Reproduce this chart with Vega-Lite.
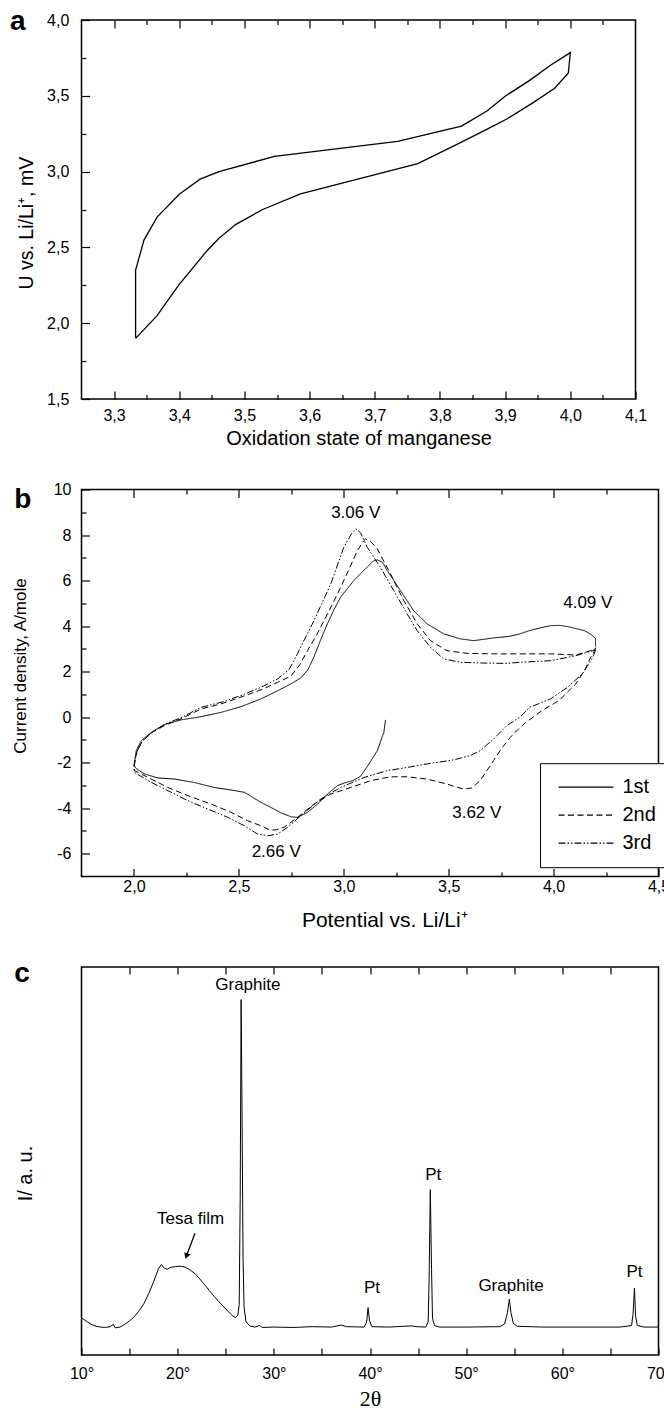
{
  "$schema": "https://vega.github.io/schema/vega-lite/v6.json",
  "background": "white",
  "padding": {"left": 8.5, "top": 6, "right": 2, "bottom": 0},
  "bounds": "flush",
  "spacing": 90.5,
  "resolve": {"legend": {"strokeDash": "independent"}},
  "config": {
    "font": "Liberation Sans",
    "view": {"stroke": "black", "strokeWidth": 1.5},
    "axis": {"domain": false, "grid": false, "tickColor": "black", "tickWidth": 1.2, "labelColor": "black", "titleColor": "black", "labelFontSize": 16, "labelFont": "Liberation Sans", "titleFont": "Liberation Sans", "titleFontWeight": "normal", "labelFlush": false, "labelOverlap": false}
  },
  "vconcat": [
    {
      "width": 554, "height": 379,
      "data": {"values": [
        {"i":0,"ox":3.333,"u":1.9},{"i":1,"ox":3.333,"u":2.35},{"i":2,"ox":3.346,"u":2.55},{"i":3,"ox":3.366,"u":2.7},{"i":4,"ox":3.4,"u":2.85},{"i":5,"ox":3.432,"u":2.95},{"i":6,"ox":3.461,"u":3.0},{"i":7,"ox":3.546,"u":3.1},{"i":8,"ox":3.735,"u":3.2},{"i":9,"ox":3.833,"u":3.3},{"i":10,"ox":3.872,"u":3.4},{"i":11,"ox":3.901,"u":3.5},{"i":12,"ox":3.937,"u":3.6},{"i":13,"ox":3.969,"u":3.7},{"i":14,"ox":4.0,"u":3.785},{"i":15,"ox":3.997,"u":3.65},{"i":16,"ox":3.976,"u":3.55},{"i":17,"ox":3.943,"u":3.455},{"i":18,"ox":3.904,"u":3.35},{"i":19,"ox":3.868,"u":3.27},{"i":20,"ox":3.826,"u":3.18},{"i":21,"ox":3.766,"u":3.053},{"i":22,"ox":3.586,"u":2.853},{"i":23,"ox":3.528,"u":2.75},{"i":24,"ox":3.487,"u":2.652},{"i":25,"ox":3.461,"u":2.56},{"i":26,"ox":3.443,"u":2.48},{"i":27,"ox":3.4,"u":2.256},{"i":28,"ox":3.38,"u":2.135},{"i":29,"ox":3.366,"u":2.05},{"i":30,"ox":3.333,"u":1.9}
      ]},
      "resolve": {"axis": {"x": "independent", "y": "independent"}},
      "layer": [
        {
          "mark": {"type": "line", "color": "black", "strokeWidth": 1.3},
          "encoding": {
            "x": {"field": "ox", "type": "quantitative", "scale": {"domain": [3.25, 4.1], "nice": false, "zero": false},
                  "axis": {"orient": "bottom", "values": [3.3,3.4,3.5,3.6,3.7,3.8,3.9,4.0,4.1], "tickSize": -8, "labelPadding": 16.5, "labelExpr": "replace(format(datum.value, '.1f'), '.', ',')", "title": "Oxidation state of manganese", "titleFontSize": 20, "titleY": 45, "titleBaseline": "alphabetic"}},
            "y": {"field": "u", "type": "quantitative", "scale": {"domain": [1.5, 4.0], "nice": false, "zero": false},
                  "axis": {"orient": "left", "values": [1.5,2.0,2.5,3.0,3.5,4.0], "tickSize": -8, "labelPadding": 20.7, "labelExpr": "replace(format(datum.value, '.1f'), '.', ',')", "title": "U vs. Li/Li⁺, mV", "titleFontSize": 19.5, "titleX": -49.5, "titleY": 202.7, "titleBaseline": "alphabetic"}},
            "order": {"field": "i", "type": "quantitative"}
          }
        },
        {
          "mark": {"type": "point", "opacity": 0},
          "encoding": {
            "x": {"field": "ox", "type": "quantitative", "scale": {"domain": [3.25, 4.1], "nice": false, "zero": false},
                  "axis": {"orient": "bottom", "values": [3.35,3.45,3.55,3.65,3.75,3.85,3.95,4.05], "tickSize": -4.5, "labels": false, "title": null}},
            "y": {"field": "u", "type": "quantitative", "scale": {"domain": [1.5, 4.0], "nice": false, "zero": false},
                  "axis": {"orient": "left", "values": [1.75,2.25,2.75,3.25,3.75], "tickSize": -4.5, "labels": false, "title": null}}
          }
        },
        {
          "mark": {"type": "point", "opacity": 0},
          "encoding": {
            "x": {"field": "ox", "type": "quantitative", "scale": {"domain": [3.25, 4.1], "nice": false, "zero": false},
                  "axis": {"orient": "top", "values": [3.3,3.4,3.5,3.6,3.7,3.8,3.9,4.0], "tickSize": -8, "labels": false, "title": "a", "titleX": -72, "titleY": 9, "titleAlign": "left", "titleAngle": 0, "titleBaseline": "alphabetic", "titleFontSize": 28, "titleFontWeight": "bold"}},
            "y": {"field": "u", "type": "quantitative", "scale": {"domain": [1.5, 4.0], "nice": false, "zero": false}, "axis": null}
          }
        },
        {
          "mark": {"type": "point", "opacity": 0},
          "encoding": {
            "x": {"field": "ox", "type": "quantitative", "scale": {"domain": [3.25, 4.1], "nice": false, "zero": false},
                  "axis": {"orient": "top", "values": [3.35,3.45,3.55,3.65,3.75,3.85,3.95,4.05], "tickSize": -4.5, "labels": false, "title": null}},
            "y": {"field": "u", "type": "quantitative", "scale": {"domain": [1.5, 4.0], "nice": false, "zero": false}, "axis": null}
          }
        }
      ]
    },
    {
      "width": 577, "height": 387,
      "data": {"values": [
        {"cycle":"1st","n":0,"E":3.199,"I":-0.12},{"cycle":"1st","n":1,"E":3.191,"I":-0.67},{"cycle":"1st","n":2,"E":3.16,"I":-1.47},{"cycle":"1st","n":3,"E":3.12,"I":-2.06},{"cycle":"1st","n":4,"E":3.08,"I":-2.6},{"cycle":"1st","n":5,"E":3.045,"I":-2.78},{"cycle":"1st","n":6,"E":3.0,"I":-2.9},{"cycle":"1st","n":7,"E":2.97,"I":-3.01},{"cycle":"1st","n":8,"E":2.945,"I":-3.2},{"cycle":"1st","n":9,"E":2.922,"I":-3.38},{"cycle":"1st","n":10,"E":2.875,"I":-3.82},{"cycle":"1st","n":11,"E":2.827,"I":-4.18},{"cycle":"1st","n":12,"E":2.78,"I":-4.4},{"cycle":"1st","n":13,"E":2.75,"I":-4.38},{"cycle":"1st","n":14,"E":2.7,"I":-4.2},{"cycle":"1st","n":15,"E":2.668,"I":-4.04},{"cycle":"1st","n":16,"E":2.605,"I":-3.74},{"cycle":"1st","n":17,"E":2.526,"I":-3.3},{"cycle":"1st","n":18,"E":2.463,"I":-3.2},{"cycle":"1st","n":19,"E":2.383,"I":-3.09},{"cycle":"1st","n":20,"E":2.288,"I":-2.87},{"cycle":"1st","n":21,"E":2.193,"I":-2.72},{"cycle":"1st","n":22,"E":2.114,"I":-2.67},{"cycle":"1st","n":23,"E":2.051,"I":-2.5},{"cycle":"1st","n":24,"E":2.01,"I":-2.25},{"cycle":"1st","n":25,"E":2.0,"I":-2.13},{"cycle":"1st","n":26,"E":2.003,"I":-1.95},{"cycle":"1st","n":27,"E":2.011,"I":-1.47},{"cycle":"1st","n":28,"E":2.035,"I":-1.03},{"cycle":"1st","n":29,"E":2.083,"I":-0.67},{"cycle":"1st","n":30,"E":2.146,"I":-0.32},{"cycle":"1st","n":31,"E":2.225,"I":-0.12},{"cycle":"1st","n":32,"E":2.32,"I":0.02},{"cycle":"1st","n":33,"E":2.415,"I":0.21},{"cycle":"1st","n":34,"E":2.51,"I":0.46},{"cycle":"1st","n":35,"E":2.605,"I":0.8},{"cycle":"1st","n":36,"E":2.685,"I":1.16},{"cycle":"1st","n":37,"E":2.748,"I":1.46},{"cycle":"1st","n":38,"E":2.795,"I":1.72},{"cycle":"1st","n":39,"E":2.83,"I":2.1},{"cycle":"1st","n":40,"E":2.858,"I":2.65},{"cycle":"1st","n":41,"E":2.89,"I":3.4},{"cycle":"1st","n":42,"E":2.922,"I":4.1},{"cycle":"1st","n":43,"E":2.955,"I":4.75},{"cycle":"1st","n":44,"E":2.985,"I":5.27},{"cycle":"1st","n":45,"E":3.048,"I":6.0},{"cycle":"1st","n":46,"E":3.112,"I":6.6},{"cycle":"1st","n":47,"E":3.14,"I":6.85},{"cycle":"1st","n":48,"E":3.16,"I":6.91},{"cycle":"1st","n":49,"E":3.185,"I":6.8},{"cycle":"1st","n":50,"E":3.207,"I":6.44},{"cycle":"1st","n":51,"E":3.27,"I":5.56},{"cycle":"1st","n":52,"E":3.333,"I":4.68},{"cycle":"1st","n":53,"E":3.397,"I":4.1},{"cycle":"1st","n":54,"E":3.476,"I":3.66},{"cycle":"1st","n":55,"E":3.555,"I":3.44},{"cycle":"1st","n":56,"E":3.619,"I":3.36},{"cycle":"1st","n":57,"E":3.714,"I":3.48},{"cycle":"1st","n":58,"E":3.79,"I":3.55},{"cycle":"1st","n":59,"E":3.84,"I":3.66},{"cycle":"1st","n":60,"E":3.885,"I":3.8},{"cycle":"1st","n":61,"E":3.94,"I":3.93},{"cycle":"1st","n":62,"E":3.986,"I":4.02},{"cycle":"1st","n":63,"E":4.03,"I":4.03},{"cycle":"1st","n":64,"E":4.066,"I":3.98},{"cycle":"1st","n":65,"E":4.147,"I":3.8},{"cycle":"1st","n":66,"E":4.18,"I":3.62},{"cycle":"1st","n":67,"E":4.2,"I":3.45},{"cycle":"1st","n":68,"E":4.2,"I":3.1},
        {"cycle":"2nd","n":0,"E":4.2,"I":3.05},{"cycle":"2nd","n":1,"E":4.19,"I":2.8},{"cycle":"2nd","n":2,"E":4.177,"I":2.63},{"cycle":"2nd","n":3,"E":4.147,"I":2.04},{"cycle":"2nd","n":4,"E":4.106,"I":1.46},{"cycle":"2nd","n":5,"E":4.066,"I":1.1},{"cycle":"2nd","n":6,"E":4.026,"I":0.73},{"cycle":"2nd","n":7,"E":3.945,"I":0.29},{"cycle":"2nd","n":8,"E":3.865,"I":-0.25},{"cycle":"2nd","n":9,"E":3.84,"I":-0.45},{"cycle":"2nd","n":10,"E":3.793,"I":-0.89},{"cycle":"2nd","n":11,"E":3.75,"I":-1.4},{"cycle":"2nd","n":12,"E":3.714,"I":-1.91},{"cycle":"2nd","n":13,"E":3.65,"I":-2.79},{"cycle":"2nd","n":14,"E":3.611,"I":-3.11},{"cycle":"2nd","n":15,"E":3.571,"I":-3.16},{"cycle":"2nd","n":16,"E":3.53,"I":-3.05},{"cycle":"2nd","n":17,"E":3.492,"I":-2.94},{"cycle":"2nd","n":18,"E":3.397,"I":-2.72},{"cycle":"2nd","n":19,"E":3.302,"I":-2.62},{"cycle":"2nd","n":20,"E":3.223,"I":-2.62},{"cycle":"2nd","n":21,"E":3.128,"I":-2.79},{"cycle":"2nd","n":22,"E":3.033,"I":-3.09},{"cycle":"2nd","n":23,"E":2.938,"I":-3.38},{"cycle":"2nd","n":24,"E":2.858,"I":-3.82},{"cycle":"2nd","n":25,"E":2.78,"I":-4.4},{"cycle":"2nd","n":26,"E":2.716,"I":-4.84},{"cycle":"2nd","n":27,"E":2.68,"I":-4.95},{"cycle":"2nd","n":28,"E":2.648,"I":-4.96},{"cycle":"2nd","n":29,"E":2.605,"I":-4.77},{"cycle":"2nd","n":30,"E":2.542,"I":-4.55},{"cycle":"2nd","n":31,"E":2.463,"I":-4.18},{"cycle":"2nd","n":32,"E":2.368,"I":-3.82},{"cycle":"2nd","n":33,"E":2.257,"I":-3.45},{"cycle":"2nd","n":34,"E":2.162,"I":-3.09},{"cycle":"2nd","n":35,"E":2.067,"I":-2.65},{"cycle":"2nd","n":36,"E":2.003,"I":-2.35},{"cycle":"2nd","n":37,"E":2.0,"I":-2.2},{"cycle":"2nd","n":38,"E":2.005,"I":-1.9},{"cycle":"2nd","n":39,"E":2.015,"I":-1.5},{"cycle":"2nd","n":40,"E":2.04,"I":-1.05},{"cycle":"2nd","n":41,"E":2.09,"I":-0.65},{"cycle":"2nd","n":42,"E":2.15,"I":-0.35},{"cycle":"2nd","n":43,"E":2.23,"I":-0.05},{"cycle":"2nd","n":44,"E":2.32,"I":0.36},{"cycle":"2nd","n":45,"E":2.415,"I":0.58},{"cycle":"2nd","n":46,"E":2.51,"I":0.88},{"cycle":"2nd","n":47,"E":2.605,"I":1.2},{"cycle":"2nd","n":48,"E":2.685,"I":1.53},{"cycle":"2nd","n":49,"E":2.748,"I":1.8},{"cycle":"2nd","n":50,"E":2.79,"I":2.3},{"cycle":"2nd","n":51,"E":2.827,"I":2.92},{"cycle":"2nd","n":52,"E":2.87,"I":3.6},{"cycle":"2nd","n":53,"E":2.906,"I":4.24},{"cycle":"2nd","n":54,"E":2.945,"I":4.95},{"cycle":"2nd","n":55,"E":2.985,"I":5.7},{"cycle":"2nd","n":56,"E":3.03,"I":6.6},{"cycle":"2nd","n":57,"E":3.065,"I":7.32},{"cycle":"2nd","n":58,"E":3.096,"I":7.76},{"cycle":"2nd","n":59,"E":3.104,"I":7.83},{"cycle":"2nd","n":60,"E":3.13,"I":7.7},{"cycle":"2nd","n":61,"E":3.16,"I":7.39},{"cycle":"2nd","n":62,"E":3.223,"I":6.29},{"cycle":"2nd","n":63,"E":3.286,"I":5.12},{"cycle":"2nd","n":64,"E":3.35,"I":4.1},{"cycle":"2nd","n":65,"E":3.413,"I":3.36},{"cycle":"2nd","n":66,"E":3.492,"I":2.92},{"cycle":"2nd","n":67,"E":3.587,"I":2.8},{"cycle":"2nd","n":68,"E":3.714,"I":2.78},{"cycle":"2nd","n":69,"E":3.84,"I":2.78},{"cycle":"2nd","n":70,"E":3.986,"I":2.78},{"cycle":"2nd","n":71,"E":4.106,"I":2.73},{"cycle":"2nd","n":72,"E":4.187,"I":2.95},{"cycle":"2nd","n":73,"E":4.2,"I":3.0},
        {"cycle":"3rd","n":0,"E":4.2,"I":2.95},{"cycle":"3rd","n":1,"E":4.19,"I":2.7},{"cycle":"3rd","n":2,"E":4.177,"I":2.48},{"cycle":"3rd","n":3,"E":4.137,"I":1.9},{"cycle":"3rd","n":4,"E":4.066,"I":1.31},{"cycle":"3rd","n":5,"E":3.986,"I":0.8},{"cycle":"3rd","n":6,"E":3.885,"I":0.43},{"cycle":"3rd","n":7,"E":3.84,"I":0.0},{"cycle":"3rd","n":8,"E":3.777,"I":-0.37},{"cycle":"3rd","n":9,"E":3.714,"I":-0.96},{"cycle":"3rd","n":10,"E":3.65,"I":-1.47},{"cycle":"3rd","n":11,"E":3.603,"I":-1.69},{"cycle":"3rd","n":12,"E":3.523,"I":-1.88},{"cycle":"3rd","n":13,"E":3.413,"I":-2.03},{"cycle":"3rd","n":14,"E":3.302,"I":-2.21},{"cycle":"3rd","n":15,"E":3.207,"I":-2.35},{"cycle":"3rd","n":16,"E":3.096,"I":-2.65},{"cycle":"3rd","n":17,"E":2.985,"I":-3.09},{"cycle":"3rd","n":18,"E":2.89,"I":-3.6},{"cycle":"3rd","n":19,"E":2.795,"I":-4.33},{"cycle":"3rd","n":20,"E":2.732,"I":-4.84},{"cycle":"3rd","n":21,"E":2.685,"I":-5.14},{"cycle":"3rd","n":22,"E":2.637,"I":-5.21},{"cycle":"3rd","n":23,"E":2.59,"I":-5.14},{"cycle":"3rd","n":24,"E":2.526,"I":-4.77},{"cycle":"3rd","n":25,"E":2.447,"I":-4.4},{"cycle":"3rd","n":26,"E":2.352,"I":-4.04},{"cycle":"3rd","n":27,"E":2.257,"I":-3.67},{"cycle":"3rd","n":28,"E":2.162,"I":-3.23},{"cycle":"3rd","n":29,"E":2.067,"I":-2.79},{"cycle":"3rd","n":30,"E":2.003,"I":-2.43},{"cycle":"3rd","n":31,"E":2.0,"I":-2.25},{"cycle":"3rd","n":32,"E":2.005,"I":-1.9},{"cycle":"3rd","n":33,"E":2.015,"I":-1.5},{"cycle":"3rd","n":34,"E":2.04,"I":-1.05},{"cycle":"3rd","n":35,"E":2.09,"I":-0.62},{"cycle":"3rd","n":36,"E":2.15,"I":-0.3},{"cycle":"3rd","n":37,"E":2.23,"I":0.0},{"cycle":"3rd","n":38,"E":2.32,"I":0.43},{"cycle":"3rd","n":39,"E":2.415,"I":0.65},{"cycle":"3rd","n":40,"E":2.51,"I":0.95},{"cycle":"3rd","n":41,"E":2.605,"I":1.31},{"cycle":"3rd","n":42,"E":2.685,"I":1.68},{"cycle":"3rd","n":43,"E":2.74,"I":2.1},{"cycle":"3rd","n":44,"E":2.78,"I":2.8},{"cycle":"3rd","n":45,"E":2.858,"I":4.24},{"cycle":"3rd","n":46,"E":2.938,"I":5.85},{"cycle":"3rd","n":47,"E":3.0,"I":7.46},{"cycle":"3rd","n":48,"E":3.041,"I":8.12},{"cycle":"3rd","n":49,"E":3.057,"I":8.27},{"cycle":"3rd","n":50,"E":3.08,"I":8.1},{"cycle":"3rd","n":51,"E":3.112,"I":7.46},{"cycle":"3rd","n":52,"E":3.175,"I":6.58},{"cycle":"3rd","n":53,"E":3.238,"I":5.56},{"cycle":"3rd","n":54,"E":3.302,"I":4.54},{"cycle":"3rd","n":55,"E":3.35,"I":3.8},{"cycle":"3rd","n":56,"E":3.413,"I":3.07},{"cycle":"3rd","n":57,"E":3.476,"I":2.56},{"cycle":"3rd","n":58,"E":3.555,"I":2.41},{"cycle":"3rd","n":59,"E":3.65,"I":2.38},{"cycle":"3rd","n":60,"E":3.777,"I":2.36},{"cycle":"3rd","n":61,"E":3.84,"I":2.41},{"cycle":"3rd","n":62,"E":3.986,"I":2.48},{"cycle":"3rd","n":63,"E":4.106,"I":2.7},{"cycle":"3rd","n":64,"E":4.187,"I":2.92},{"cycle":"3rd","n":65,"E":4.2,"I":3.0}
      ]},
      "resolve": {"axis": {"x": "independent", "y": "independent"}},
      "layer": [
        {
          "mark": {"type": "line", "color": "black", "strokeWidth": 1},
          "encoding": {
            "x": {"field": "E", "type": "quantitative", "scale": {"domain": [1.75, 4.5], "nice": false, "zero": false},
                  "axis": {"orient": "bottom", "values": [2.0,2.5,3.0,3.5,4.0,4.5], "tickSize": -8, "labelPadding": 10, "labelExpr": "replace(format(datum.value, '.1f'), '.', ',')", "title": "Potential vs. Li/Li⁺", "titleFontSize": 21, "titleX": 302.8, "titleY": 49.5, "titleBaseline": "alphabetic"}},
            "y": {"field": "I", "type": "quantitative", "scale": {"domain": [-7, 10], "nice": false, "zero": false},
                  "axis": {"orient": "left", "values": [-6,-4,-2,0,2,4,6,8,10], "tickSize": -8, "labelPadding": 18.5, "labelExpr": "'' + datum.value", "title": "Current density, A/mole", "titleFontSize": 17, "titleX": -56, "titleY": 176, "titleBaseline": "alphabetic"}},
            "strokeDash": {"field": "cycle", "type": "nominal",
                  "scale": {"domain": ["1st", "2nd", "3rd"], "range": [[1, 0], [6, 3.5], [7, 2, 1.5, 2, 1.5, 2]]},
                  "legend": {"title": null, "orient": "none", "legendX": 458.5, "legendY": 273.7, "strokeColor": "black", "fillColor": "white", "padding": 14, "symbolType": "M-1,0L9,0", "symbolSize": 121, "symbolStrokeWidth": 1.2, "symbolStrokeColor": "black", "labelFontSize": 20, "labelFont": "Liberation Sans", "labelColor": "black", "rowPadding": 8, "labelOffset": 48.5}},
            "order": {"field": "n", "type": "quantitative"}
          }
        },
        {
          "mark": {"type": "point", "opacity": 0},
          "encoding": {
            "x": {"field": "E", "type": "quantitative", "scale": {"domain": [1.75, 4.5], "nice": false, "zero": false},
                  "axis": {"orient": "bottom", "values": [2.25,2.75,3.25,3.75,4.25], "tickSize": -4.5, "labels": false, "title": null}},
            "y": {"field": "I", "type": "quantitative", "scale": {"domain": [-7, 10], "nice": false, "zero": false},
                  "axis": {"orient": "left", "values": [-5,-3,-1,1,3,5,7,9], "tickSize": -4.5, "labels": false, "title": null}}
          }
        },
        {
          "mark": {"type": "point", "opacity": 0},
          "encoding": {
            "x": {"field": "E", "type": "quantitative", "scale": {"domain": [1.75, 4.5], "nice": false, "zero": false},
                  "axis": {"orient": "top", "values": [2.0,2.5,3.0,3.5,4.0], "tickSize": -8, "labels": false, "title": "b", "titleX": -67.8, "titleY": 17.7, "titleAlign": "left", "titleAngle": 0, "titleBaseline": "alphabetic", "titleFontSize": 28, "titleFontWeight": "bold"}},
            "y": {"field": "I", "type": "quantitative", "scale": {"domain": [-7, 10], "nice": false, "zero": false}, "axis": null}
          }
        },
        {
          "mark": {"type": "point", "opacity": 0},
          "encoding": {
            "x": {"field": "E", "type": "quantitative", "scale": {"domain": [1.75, 4.5], "nice": false, "zero": false},
                  "axis": {"orient": "top", "values": [2.25,2.75,3.25,3.75,4.25], "tickSize": -4.5, "labels": false, "title": null}},
            "y": {"field": "I", "type": "quantitative", "scale": {"domain": [-7, 10], "nice": false, "zero": false}, "axis": null}
          }
        },
        {
          "data": {"values": [
            {"x": 3.057, "y": 8.95, "t": "3.06 V"},
            {"x": 4.163, "y": 5.01, "t": "4.09 V"},
            {"x": 3.634, "y": -4.19, "t": "3.62 V"},
            {"x": 2.678, "y": -5.92, "t": "2.66 V"}
          ]},
          "mark": {"type": "text", "fontSize": 17, "color": "black", "align": "center", "baseline": "middle"},
          "encoding": {
            "x": {"field": "x", "type": "quantitative", "scale": {"domain": [1.75, 4.5], "nice": false, "zero": false}, "axis": null},
            "y": {"field": "y", "type": "quantitative", "scale": {"domain": [-7, 10], "nice": false, "zero": false}, "axis": null},
            "text": {"field": "t"}
          }
        }
      ]
    },
    {
      "width": 577, "height": 388,
      "data": {"values": [
        {"t":10.0,"I":9.6},{"t":10.5,"I":8.7},{"t":11.0,"I":7.9},{"t":11.5,"I":7.4},{"t":12.0,"I":7.2},{"t":12.5,"I":7.1},{"t":13.0,"I":7.3},{"t":13.3,"I":7.9},{"t":13.5,"I":7.0},{"t":14.0,"I":7.2},{"t":14.5,"I":7.9},{"t":15.0,"I":8.8},{"t":15.5,"I":9.9},{"t":16.0,"I":11.4},{"t":16.5,"I":13.3},{"t":17.0,"I":15.9},{"t":17.5,"I":18.9},{"t":18.0,"I":22.2},{"t":18.3,"I":23.3},{"t":18.6,"I":22.4},{"t":18.9,"I":22.1},{"t":19.3,"I":22.6},{"t":19.8,"I":22.8},{"t":20.3,"I":22.9},{"t":20.8,"I":22.6},{"t":21.3,"I":21.9},{"t":21.8,"I":21.0},{"t":22.3,"I":19.6},{"t":22.8,"I":18.1},{"t":23.3,"I":16.6},{"t":23.8,"I":15.1},{"t":24.3,"I":13.7},{"t":24.8,"I":12.4},{"t":25.3,"I":11.1},{"t":25.7,"I":10.1},{"t":26.0,"I":9.7},{"t":26.25,"I":10.2},{"t":26.4,"I":13.0},{"t":26.5,"I":40.0},{"t":26.6,"I":91.6},{"t":26.7,"I":60.0},{"t":26.8,"I":25.0},{"t":26.9,"I":12.5},{"t":27.1,"I":8.6},{"t":27.5,"I":7.5},{"t":28.0,"I":7.2},{"t":28.5,"I":7.6},{"t":28.8,"I":7.1},{"t":30.0,"I":7.2},{"t":32.0,"I":7.1},{"t":34.0,"I":7.3},{"t":36.0,"I":7.2},{"t":37.0,"I":7.7},{"t":37.6,"I":7.3},{"t":39.4,"I":7.2},{"t":39.65,"I":8.5},{"t":39.8,"I":12.2},{"t":39.95,"I":8.8},{"t":40.2,"I":7.3},{"t":42.0,"I":7.2},{"t":44.3,"I":7.5},{"t":44.8,"I":7.3},{"t":45.8,"I":7.2},{"t":46.05,"I":8.5},{"t":46.15,"I":20.0},{"t":46.27,"I":42.6},{"t":46.4,"I":22.0},{"t":46.5,"I":9.5},{"t":46.7,"I":7.6},{"t":47.2,"I":7.2},{"t":50.0,"I":7.2},{"t":53.5,"I":7.3},{"t":54.0,"I":8.0},{"t":54.3,"I":11.0},{"t":54.49,"I":14.4},{"t":54.65,"I":11.0},{"t":54.9,"I":8.2},{"t":55.3,"I":7.4},{"t":58.0,"I":7.2},{"t":62.0,"I":7.2},{"t":66.0,"I":7.2},{"t":67.2,"I":7.6},{"t":67.35,"I":10.5},{"t":67.5,"I":17.2},{"t":67.62,"I":10.0},{"t":67.8,"I":7.6},{"t":68.5,"I":7.2},{"t":70.0,"I":7.2}
      ]},
      "resolve": {"axis": {"x": "independent", "y": "independent"}},
      "layer": [
        {
          "mark": {"type": "line", "color": "black", "strokeWidth": 1},
          "encoding": {
            "x": {"field": "t", "type": "quantitative", "scale": {"domain": [10, 70], "nice": false, "zero": false},
                  "axis": {"orient": "bottom", "values": [10,15,20,25,30,35,40,45,50,55,60,65,70], "tickSize": -7, "labelPadding": 17, "labelExpr": "datum.value % 10 == 0 ? datum.value + '°' : ''", "title": "2θ", "titleFont": "Liberation Serif", "titleFontSize": 22, "titleY": 50, "titleBaseline": "alphabetic"}},
            "y": {"field": "I", "type": "quantitative", "scale": {"domain": [0, 100], "nice": false, "zero": false},
                  "axis": {"orient": "left", "ticks": false, "labels": false, "title": "I/ a. u.", "titleFontSize": 20, "titleX": -50.5, "titleY": 206, "titleBaseline": "alphabetic"}}
          }
        },
        {
          "mark": {"type": "point", "opacity": 0},
          "encoding": {
            "x": {"field": "t", "type": "quantitative", "scale": {"domain": [10, 70], "nice": false, "zero": false},
                  "axis": {"orient": "top", "values": [15,20,25,30,35,40,45,50,55,60,65], "tickSize": -7, "labels": false, "title": "c", "titleX": -67.8, "titleY": 14.3, "titleAlign": "left", "titleAngle": 0, "titleBaseline": "alphabetic", "titleFontSize": 28, "titleFontWeight": "bold"}},
            "y": {"field": "I", "type": "quantitative", "scale": {"domain": [0, 100], "nice": false, "zero": false}, "axis": null}
          }
        },
        {
          "data": {"values": [
            {"x": 27.3, "y": 95.4, "s": "Graphite"},
            {"x": 21.35, "y": 35.1, "s": "Tesa film"},
            {"x": 46.58, "y": 46.4, "s": "Pt"},
            {"x": 40.2, "y": 17.2, "s": "Pt"},
            {"x": 54.66, "y": 17.9, "s": "Graphite"},
            {"x": 67.5, "y": 21.3, "s": "Pt"}
          ]},
          "mark": {"type": "text", "fontSize": 17, "color": "black", "align": "center", "baseline": "middle"},
          "encoding": {
            "x": {"field": "x", "type": "quantitative", "scale": {"domain": [10, 70], "nice": false, "zero": false}, "axis": null},
            "y": {"field": "y", "type": "quantitative", "scale": {"domain": [0, 100], "nice": false, "zero": false}, "axis": null},
            "text": {"field": "s"}
          }
        },
        {
          "data": {"values": [{"x1": 21.8, "y1": 31.4, "x2": 20.91, "y2": 25.5}]},
          "mark": {"type": "rule", "color": "black", "strokeWidth": 1.3},
          "encoding": {
            "x": {"field": "x1", "type": "quantitative", "scale": {"domain": [10, 70], "nice": false, "zero": false}, "axis": null},
            "y": {"field": "y1", "type": "quantitative", "scale": {"domain": [0, 100], "nice": false, "zero": false}, "axis": null},
            "x2": {"field": "x2"},
            "y2": {"field": "y2"}
          }
        },
        {
          "data": {"values": [{"x": 20.91, "y": 25.5}]},
          "mark": {"type": "point", "shape": "triangle-down", "filled": true, "color": "black", "size": 45, "angle": 20.6, "opacity": 1},
          "encoding": {
            "x": {"field": "x", "type": "quantitative", "scale": {"domain": [10, 70], "nice": false, "zero": false}, "axis": null},
            "y": {"field": "y", "type": "quantitative", "scale": {"domain": [0, 100], "nice": false, "zero": false}, "axis": null}
          }
        }
      ]
    }
  ]
}
